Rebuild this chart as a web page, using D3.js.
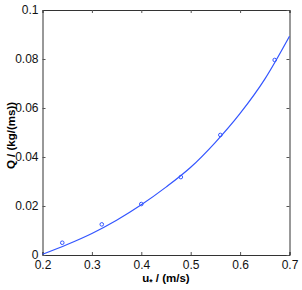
<!DOCTYPE html>
<html>
<head>
<meta charset="utf-8">
<script src="https://cdn.jsdelivr.net/npm/d3@7"></script>
<style>
  body { margin: 0; background: #fff; }
  text { font-family: "Liberation Sans", Arial, sans-serif; }
</style>
</head>
<body>
<div class="canva"></div>
<script>
const width = 302
const height = 290

// measured points
const uStar = [0.24, 0.32, 0.40, 0.48, 0.56, 0.67]
const flux = [0.0050, 0.0125, 0.0208, 0.0318, 0.0490, 0.0796]

// fitted curve
const fitU = [0.20, 0.25, 0.30, 0.35, 0.40, 0.45, 0.50, 0.55, 0.60, 0.65, 0.70]
const fitQ = [0.0003, 0.0043, 0.0088, 0.0142, 0.0205, 0.0277, 0.0358, 0.0460, 0.0578, 0.0718, 0.0893]

const xTicks = [0.2, 0.3, 0.4, 0.5, 0.6, 0.7]
const yTicks = [0, 0.02, 0.04, 0.06, 0.08, 0.1]

const margin = {top: 10, right: 12.5, bottom: 35, left: 42.5}
const blue = "#3355ff"

const svg = d3.select(".canva").append("svg").attr("width", width).attr("height", height)

const x = d3.scaleLinear().domain([0.2, 0.7]).range([margin.left, width - margin.right])
const y = d3.scaleLinear().domain([0, 0.1]).range([height - margin.bottom, margin.top])

//axes, matlab style ticks pointing in
const fmt = d => d === 0 ? "0" : String(+d.toFixed(2))
svg.append("g").attr("transform", `translate(0,${y(0)})`)
  .call(d3.axisBottom(x).tickValues(xTicks).tickSize(-3).tickPadding(5).tickFormat(fmt))
svg.append("g").attr("transform", `translate(${x(0.2)},0)`)
  .call(d3.axisLeft(y).tickValues(yTicks).tickSize(-3).tickPadding(4).tickFormat(fmt))
svg.append("g").attr("transform", `translate(0,${y(0.1)})`)
  .call(d3.axisTop(x).tickValues(xTicks).tickSize(-3).tickFormat(""))
svg.append("g").attr("transform", `translate(${x(0.7)},0)`)
  .call(d3.axisRight(y).tickValues(yTicks).tickSize(-3).tickFormat(""))

svg.selectAll(".domain").attr("stroke", "#333")
svg.selectAll(".tick line").attr("stroke", "#555")
svg.selectAll(".tick text").attr("font-size", 12).attr("fill", "#111")
  .attr("font-family", "Liberation Sans, Arial, sans-serif")

//fit line
const fit = fitU.map((u, i) => [u, fitQ[i]])
svg.append("path")
  .datum(fit)
  .attr("fill", "none")
  .attr("stroke", blue)
  .attr("stroke-width", 1.2)
  .attr("d", d3.line().x(d => x(d[0])).y(d => y(d[1])).curve(d3.curveMonotoneX))

//markers
svg.append("g").selectAll("circle")
  .data(uStar)
  .enter()
  .append("circle")
  .attr("cx", d => x(d))
  .attr("cy", (d, i) => y(flux[i]))
  .attr("r", 1.8)
  .attr("fill", "none")
  .attr("stroke", blue)
  .attr("stroke-width", 1)

//labels
const xl = svg.append("text")
  .attr("x", (x(0.2) + x(0.7)) / 2)
  .attr("y", 282)
  .attr("text-anchor", "middle")
  .attr("font-size", 11.5)
  .attr("font-weight", "bold")
xl.append("tspan").text("u")
xl.append("tspan").text("*").attr("dy", 3).attr("font-size", 8.5)
xl.append("tspan").text(" / (m/s)").attr("dy", -3)

svg.append("text")
  .attr("transform", `translate(15,${(y(0) + y(0.1)) / 2 + 3}) rotate(-90)`)
  .attr("text-anchor", "middle")
  .attr("font-size", 11.5)
  .attr("font-weight", "bold")
  .text("Q / (kg/(ms))")
</script>
</body>
</html>
